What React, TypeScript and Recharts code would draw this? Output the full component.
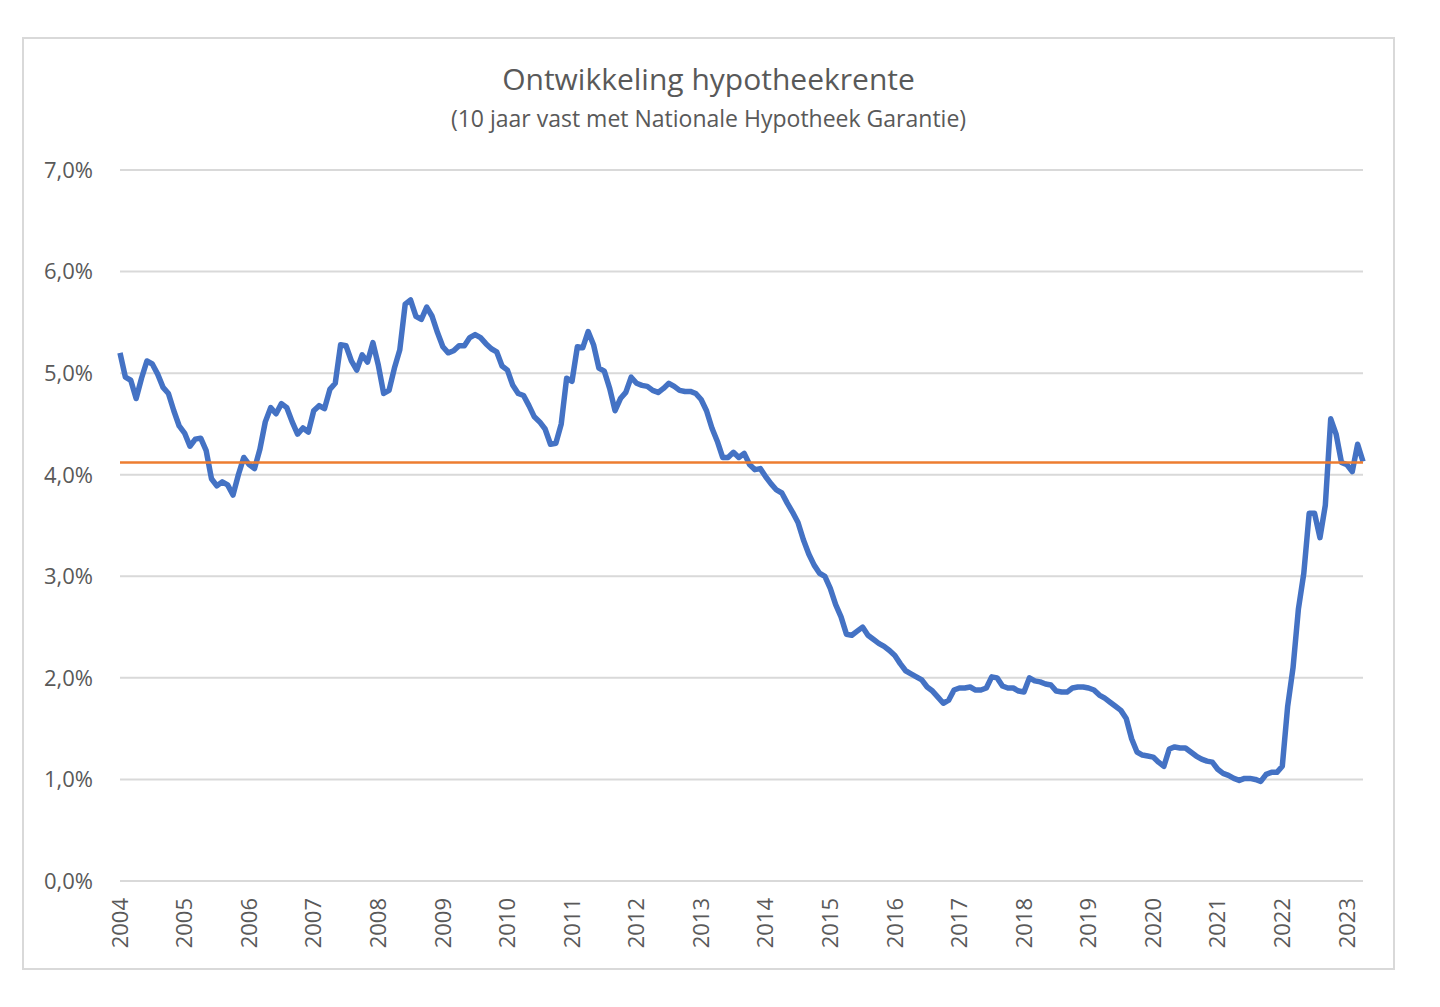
import React from "react";
import { LineChart, Line, XAxis, YAxis, CartesianGrid, ReferenceLine } from "recharts";

// maandelijkse rente (%), 10 jaar vast met NHG
const rente2004 = [5.2, 4.96, 4.93, 4.75, 4.95, 5.12, 5.09, 4.99, 4.86, 4.8, 4.63, 4.48];
const rente2005 = [4.41, 4.28, 4.35, 4.36, 4.24, 3.96, 3.89, 3.93, 3.9, 3.8, 4.0, 4.17];
const rente2006 = [4.1, 4.06, 4.25, 4.52, 4.66, 4.6, 4.7, 4.66, 4.52, 4.4, 4.46, 4.42];
const rente2007 = [4.63, 4.68, 4.65, 4.84, 4.9, 5.28, 5.27, 5.12, 5.03, 5.18, 5.11, 5.3];
const rente2008 = [5.08, 4.8, 4.83, 5.05, 5.23, 5.68, 5.72, 5.56, 5.53, 5.65, 5.56, 5.4];
const rente2009 = [5.26, 5.2, 5.22, 5.27, 5.27, 5.35, 5.38, 5.35, 5.29, 5.24, 5.21, 5.07];
const rente2010 = [5.03, 4.88, 4.8, 4.78, 4.68, 4.57, 4.52, 4.45, 4.3, 4.31, 4.5, 4.95];
const rente2011 = [4.92, 5.26, 5.25, 5.41, 5.28, 5.05, 5.02, 4.85, 4.63, 4.75, 4.81, 4.96];
const rente2012 = [4.9, 4.88, 4.87, 4.83, 4.81, 4.85, 4.9, 4.87, 4.83, 4.82, 4.82, 4.8];
const rente2013 = [4.74, 4.63, 4.46, 4.33, 4.17, 4.17, 4.22, 4.17, 4.21, 4.1, 4.05, 4.06];
const rente2014 = [3.98, 3.91, 3.85, 3.82, 3.72, 3.63, 3.53, 3.36, 3.22, 3.11, 3.03, 3.0];
const rente2015 = [2.88, 2.72, 2.6, 2.43, 2.42, 2.46, 2.5, 2.42, 2.38, 2.34, 2.31, 2.27];
const rente2016 = [2.22, 2.14, 2.07, 2.04, 2.01, 1.98, 1.91, 1.87, 1.81, 1.75, 1.78, 1.88];
const rente2017 = [1.9, 1.9, 1.91, 1.88, 1.88, 1.9, 2.01, 2.0, 1.92, 1.9, 1.9, 1.87];
const rente2018 = [1.86, 2.0, 1.97, 1.96, 1.94, 1.93, 1.87, 1.86, 1.86, 1.9, 1.91, 1.91];
const rente2019 = [1.9, 1.88, 1.83, 1.8, 1.76, 1.72, 1.68, 1.6, 1.4, 1.27, 1.24, 1.23];
const rente2020 = [1.22, 1.17, 1.13, 1.3, 1.32, 1.31, 1.31, 1.27, 1.23, 1.2, 1.18, 1.17];
const rente2021 = [1.1, 1.06, 1.04, 1.01, 0.99, 1.01, 1.01, 1.0, 0.98, 1.05, 1.07, 1.07];
const rente2022 = [1.13, 1.72, 2.1, 2.68, 3.03, 3.62, 3.62, 3.38, 3.7, 4.55, 4.4, 4.12];
const rente2023 = [4.1, 4.03, 4.3, 4.13];

const jaren = ["2004", "2005", "2006", "2007", "2008", "2009", "2010", "2011", "2012", "2013",
  "2014", "2015", "2016", "2017", "2018", "2019", "2020", "2021", "2022", "2023"];
const reeks = [rente2004, rente2005, rente2006, rente2007, rente2008, rente2009, rente2010,
  rente2011, rente2012, rente2013, rente2014, rente2015, rente2016, rente2017, rente2018,
  rente2019, rente2020, rente2021, rente2022, rente2023];

const yTicks = [0, 1, 2, 3, 4, 5, 6, 7];
const gemiddelde = 4.12;

const data = jaren.flatMap((jaar, j) =>
  reeks[j].map((v, i) => ({ maand: `${jaar}-${String(i + 1).padStart(2, "0")}`, rente: v }))
);
const xTicks = jaren.map(j => `${j}-01`);

const font = "'Open Sans', sans-serif";
const grey = "#595959";

const YearTick = ({ x, y, payload }: { x?: number; y?: number; payload?: { value: string } }) => (
  <text
    x={x} y={y} dy="0.35em" textAnchor="end"
    transform={`rotate(-90 ${x} ${y})`}
    fill={grey} fontSize={22} fontFamily={font}
  >
    {payload?.value.slice(0, 4)}
  </text>
);

export default function App() {
  return (
    <div style={{ position: "absolute", left: 0, top: 0, width: 1440, height: 1007, background: "#fff" }}>
      <div style={{ position: "absolute", left: 22, top: 37, width: 1373, height: 933, border: "2px solid #d9d9d9", boxSizing: "border-box" }} />
      <div style={{ position: "absolute", left: 22, top: 61, width: 1373, textAlign: "center", fontFamily: font, fontSize: 30, color: grey, lineHeight: "36px" }}>
        Ontwikkeling hypotheekrente
      </div>
      <div style={{ position: "absolute", left: 22, top: 103, width: 1373, textAlign: "center", fontFamily: font, fontSize: 23, color: grey, lineHeight: "30px" }}>
        (10 jaar vast met Nationale Hypotheek Garantie)
      </div>
      <div style={{ position: "absolute", left: 22, top: 37 }}>
        <LineChart width={1373} height={933} data={data} margin={{ top: 133, right: 32, bottom: 29, left: 28 }}>
          <CartesianGrid vertical={false} stroke="#d9d9d9" strokeWidth={2} />
          <XAxis
            dataKey="maand" ticks={xTicks} interval={0} height={60}
            axisLine={false} tickLine={false} tickMargin={11}
            tick={<YearTick />}
          />
          <YAxis
            domain={[0, 7]} ticks={yTicks} width={70}
            axisLine={false} tickLine={false} tickSize={6} tickMargin={21}
            tickFormatter={(v: number) => `${v.toFixed(1).replace(".", ",")}%`}
            tick={{ fill: grey, fontSize: 22, fontFamily: font }}
          />
          <Line
            type="linear" dataKey="rente" stroke="#4472C4" strokeWidth={5.5}
            strokeLinejoin="round" dot={false} isAnimationActive={false}
          />
          <ReferenceLine y={gemiddelde} stroke="#ED7D31" strokeWidth={2.5} />
        </LineChart>
      </div>
    </div>
  );
}
